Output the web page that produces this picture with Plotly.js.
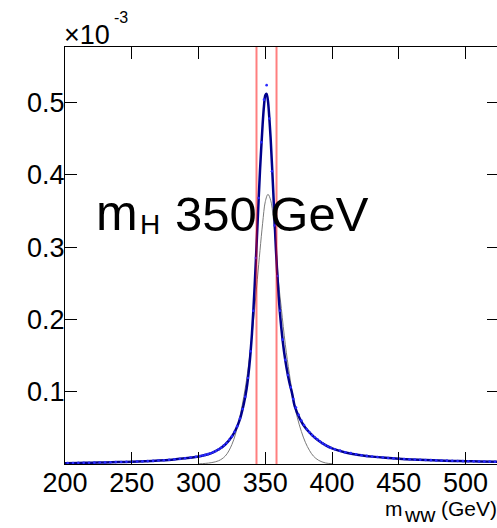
<!DOCTYPE html>
<html>
<head>
<meta charset="utf-8">
<script src="https://cdn.plot.ly/plotly-3.0.1.min.js"></script>
<style>
html,body{margin:0;padding:0;overflow:hidden;background:#fff;}
#chart{width:500px;height:528px;}
</style>
</head>
<body>
<div id="chart"></div>
<script>
// Fit curve (units of 1e-3)
const fitX = [200,210,220,230,240,250,260,270,280,290,300,305,310,315,320,325,328,331,334,336,338,340,342,344,346,348,349,350,351,352,354,356,358,360,362,364,366,368,370,372,376,380,385,390,395,400,410,420,430,440,450,460,470,480,490,500,510,525];
const fitY = [0.0012,0.0015,0.0018,0.0022,0.0026,0.0031,0.0038,0.0047,0.0060,0.0078,0.0105,0.0125,0.0155,0.020,0.027,0.038,0.048,0.062,0.084,0.104,0.135,0.180,0.245,0.325,0.405,0.470,0.495,0.510,0.512,0.502,0.450,0.375,0.295,0.232,0.188,0.156,0.132,0.113,0.098,0.080,0.062,0.050,0.040,0.032,0.026,0.0215,0.0160,0.0125,0.0102,0.0085,0.0072,0.0062,0.0054,0.0048,0.0043,0.0039,0.0035,0.0030];

// Data points
const dataX = [202,206,210,214,218,222,226,230,234,238,242,246,250,254,258,262,266,270,274,278,282,286,290,294,298,
301,303,305,307,309,311,313,315,317,319,321,323,325,327,329,331,333,335,337,339,341,343,345,347,349,351,353,355,357,359,361,363,365,367,369,371,373,375,377,379,381,383,385,387,389,391,393,395,397,399,
402,406,410,414,418,422,426,430,434,438,442,446,450,454,458,462,466,470,474,478,482,486,490,494,498,502,506,510,514,518,522];
const dataY = [0.0013,0.0014,0.0016,0.0016,0.0018,0.0019,0.0021,0.0022,0.0024,0.0026,0.0027,0.0030,0.0031,0.0034,0.0037,0.0040,0.0043,0.0048,0.0052,0.0058,0.0064,0.0070,0.0079,0.0090,0.0100,
0.0110,0.0117,0.0126,0.0136,0.0148,0.0163,0.0179,0.0202,0.0225,0.0258,0.0290,0.0335,0.0382,0.0445,0.0520,0.0628,0.0760,0.0930,0.1190,0.1560,0.2120,0.2850,0.3680,0.4450,0.5040,0.5240,0.4780,0.4050,0.3300,0.2600,0.2120,0.1720,0.1440,0.1230,0.1060,0.0900,0.0780,0.0680,0.0600,0.0540,0.0480,0.0440,0.0400,0.0370,0.0340,0.0310,0.0285,0.0262,0.0242,0.0225,
0.0205,0.0185,0.0163,0.0150,0.0135,0.0122,0.0112,0.0104,0.0096,0.0090,0.0083,0.0078,0.0073,0.0069,0.0065,0.0061,0.0058,0.0055,0.0053,0.0050,0.0047,0.0046,0.0044,0.0042,0.0040,0.0039,0.0037,0.0036,0.0034,0.0033,0.0032];

// Gray reference curve
const grayX = [300,305,310,315,320,325,330,335,338,341,344,346,348,350,352,354,356,358,360,362,365,368,371,374,377,380,383,386,390,395,400];
const grayY = [0.0002,0.0008,0.0020,0.0045,0.0110,0.0270,0.0580,0.1050,0.1450,0.1950,0.2550,0.2950,0.3330,0.3630,0.3730,0.3650,0.3400,0.3000,0.2500,0.2150,0.1650,0.1250,0.0900,0.0640,0.0450,0.0300,0.0190,0.0110,0.0050,0.0015,0.0004];

// Window cuts
const cutX = [343.4, 358.4];
const yTop = 0.5768;

const xTicks = [200,250,300,350,400,450,500];
const xTickText = ['200','250','300','350','400','450','500'];
const yTicks = [0.1,0.2,0.3,0.4,0.5];
const yTickText = ['0.1','0.2','0.3','0.4','0.5'];

const FONT = 'Liberation Sans, Arial, Helvetica, sans-serif';

const traces = [
  {x: grayX, y: grayY, type:'scatter', mode:'lines', line:{color:'#7a7a7a', width:1, shape:'spline'}, hoverinfo:'skip'},
  {x: fitX, y: fitY, type:'scatter', mode:'lines', line:{color:'#00008b', width:2.5, shape:'spline', smoothing:0.8}, hoverinfo:'skip'},
  {x: dataX, y: dataY, type:'scatter', mode:'markers', marker:{color:'#2a2aff', size:2.6, symbol:'circle'}, hoverinfo:'skip'},
  {x: [cutX[0],cutX[0]], y:[0,yTop], type:'scatter', mode:'lines', line:{color:'rgba(255,0,0,0.5)', width:2}, hoverinfo:'skip'},
  {x: [cutX[1],cutX[1]], y:[0,yTop], type:'scatter', mode:'lines', line:{color:'rgba(255,0,0,0.5)', width:2}, hoverinfo:'skip'}
];

const W = 500, H = 528, L = 65, R = 1, T = 47, B = 64;
const pw = W - L - R, ph = H - T - B;
function px(xp){ return (xp - L)/pw; }
function py(yp){ return (H - B - yp)/ph; }

const layout = {
  width: W, height: H,
  margin: {l:L, r:R, t:T, b:B, pad:0},
  showlegend: false,
  paper_bgcolor:'#fff', plot_bgcolor:'#fff',
  font: {family: FONT, color:'#000'},
  xaxis: {
    range:[200,525], showgrid:false, zeroline:false,
    showline:true, linecolor:'#000', linewidth:1, mirror:'ticks',
    ticks:'inside', ticklen:12, tickcolor:'#000', tickwidth:1,
    tickvals:xTicks, ticktext:xTickText, ticklabelstandoff:-5,
    tickfont:{family:FONT, size:27, color:'#000'}
  },
  yaxis: {
    range:[0,yTop], showgrid:false, zeroline:false,
    showline:true, linecolor:'#000', linewidth:1, mirror:'ticks',
    ticks:'inside', ticklen:12, tickcolor:'#000', tickwidth:1,
    tickvals:yTicks, ticktext:yTickText, ticklabelstandoff:-6,
    tickfont:{family:FONT, size:27, color:'#000'}
  },
  annotations: [
    {xref:'paper', yref:'paper', x:px(62), y:py(52), xanchor:'left', yanchor:'bottom', showarrow:false,
     text:'×10', font:{family:FONT, size:27, color:'#000'}},
    {xref:'paper', yref:'paper', x:px(112), y:py(28), xanchor:'left', yanchor:'bottom', showarrow:false,
     text:'-3', font:{family:FONT, size:16, color:'#000'}},
    {xref:'paper', yref:'paper', x:px(94), y:py(243), xanchor:'left', yanchor:'bottom', showarrow:false,
     text:'m', font:{family:FONT, size:50, color:'#000'}},
    {xref:'paper', yref:'paper', x:px(138), y:py(242), xanchor:'left', yanchor:'bottom', showarrow:false,
     text:'H', font:{family:FONT, size:28, color:'#000'}},
    {xref:'paper', yref:'paper', x:px(173), y:py(243), xanchor:'left', yanchor:'bottom', showarrow:false,
     text:'350 GeV', font:{family:FONT, size:49, color:'#000'}},
    {xref:'paper', yref:'paper', x:px(383), y:py(522), xanchor:'left', yanchor:'bottom', showarrow:false,
     text:'m', font:{family:FONT, size:21, color:'#000'}},
    {xref:'paper', yref:'paper', x:px(402), y:py(528), xanchor:'left', yanchor:'bottom', showarrow:false,
     text:'ww', font:{family:FONT, size:21, color:'#000'}},
    {xref:'paper', yref:'paper', x:px(439), y:py(522), xanchor:'left', yanchor:'bottom', showarrow:false,
     text:'(GeV)', font:{family:FONT, size:21, color:'#000'}}
  ]
};

Plotly.newPlot('chart', traces, layout, {displayModeBar:false, staticPlot:true});
</script>
</body>
</html>
